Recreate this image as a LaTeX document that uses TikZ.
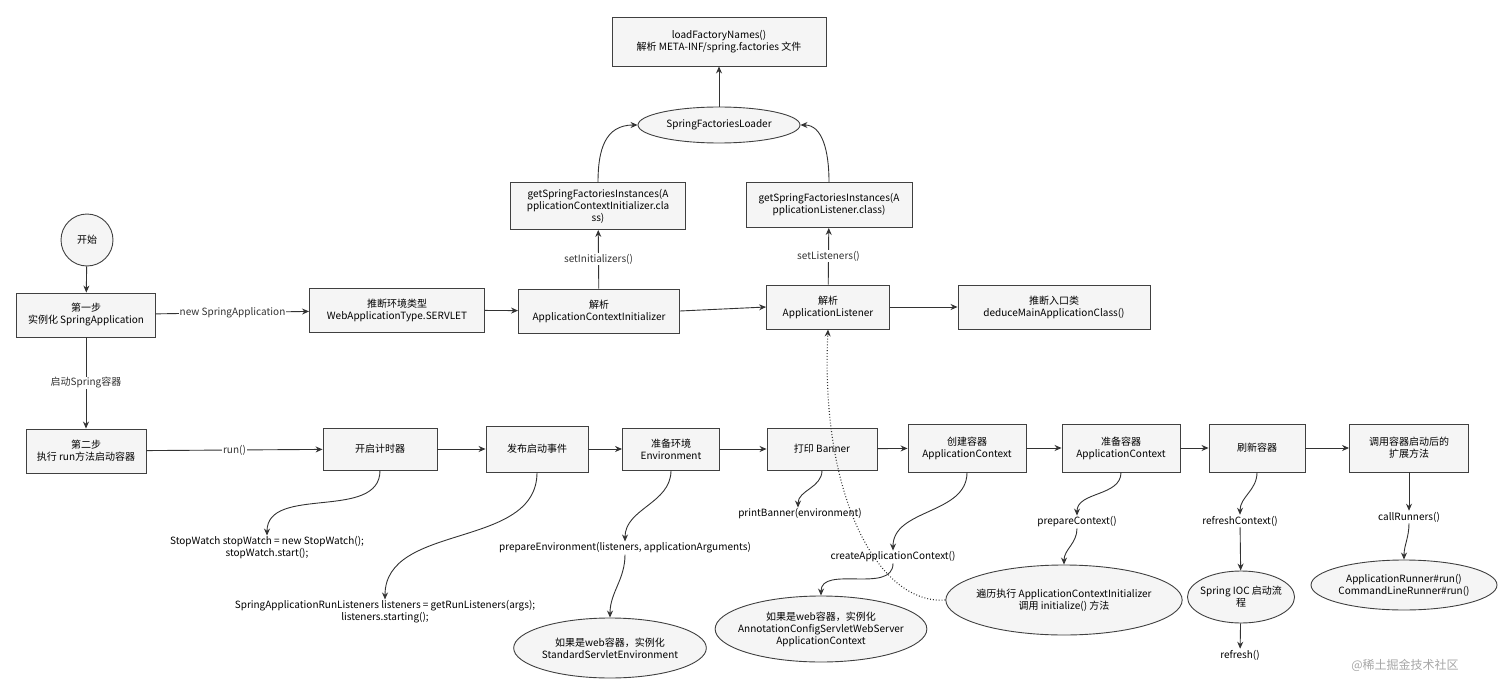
\documentclass[tikz,border=0pt]{standalone}
\usepackage{fontspec}
\setmainfont{Noto Sans CJK SC}
\usetikzlibrary{shapes.geometric,arrows.meta}
\begin{document}
\begin{tikzpicture}[x=1pt,y=1pt,
  font=\fontsize{10}{12}\selectfont,
  box/.style={draw=black!75,fill=black!4,line width=0.9pt,align=center,inner sep=2pt},
  ell/.style={ellipse,draw=black!75,fill=black!4,line width=0.9pt,align=center,inner sep=0pt},
  lab/.style={align=center,inner sep=1pt},
  arr/.style={-{Stealth[length=7pt,width=6pt]},line width=0.9pt,black!80},
  ll/.style={fill=white,inner sep=1pt}]
\useasboundingbox (0,0) rectangle (1512,-698);
\node[box,minimum width=214,minimum height=49] (lfn) at (719,-41.5) {loadFactoryNames()\\解析 META-INF/spring.factories 文件};
\node[ell,minimum width=162,minimum height=36] (sfl) at (719,-125) {SpringFactoriesLoader};
\node[box,minimum width=175,minimum height=47] (gl) at (598,-206) {getSpringFactoriesInstances(A\\pplicationContextInitializer.cla\\ss)};
\node[box,minimum width=166,minimum height=45] (gr) at (829,-205) {getSpringFactoriesInstances(A\\pplicationListener.class)};
\node[circle,draw=black!75,fill=black!4,line width=0.9pt,minimum size=52] (start) at (87,-240) {开始};
\node[box,minimum width=139,minimum height=44] (s1) at (86,-315) {第一步\\实例化 SpringApplication};
\node[box,minimum width=175,minimum height=44] (env) at (397,-310) {推断环境类型\\WebApplicationType.SERVLET};
\node[box,minimum width=161,minimum height=44] (aci) at (599,-311) {解析\\ApplicationContextInitializer};
\node[box,minimum width=123,minimum height=44] (al) at (828,-307) {解析\\ApplicationListener};
\node[box,minimum width=192,minimum height=44] (main) at (1054,-307) {推断入口类\\deduceMainApplicationClass()};
\node[box,minimum width=120,minimum height=44] (s2) at (86,-451) {第二步\\执行 run方法启动容器};
\node[box,minimum width=114,minimum height=42] (b1) at (380,-449) {开启计时器};
\node[box,minimum width=102,minimum height=46] (b2) at (537,-449) {发布启动事件};
\node[box,minimum width=97,minimum height=42] (b3) at (671,-449) {准备环境\\Environment};
\node[box,minimum width=110,minimum height=42] (b4) at (822,-449) {打印 Banner};
\node[box,minimum width=118,minimum height=48] (b5) at (967,-448) {创建容器\\ApplicationContext};
\node[box,minimum width=118,minimum height=48] (b6) at (1121,-448) {准备容器\\ApplicationContext};
\node[box,minimum width=96,minimum height=48] (b7) at (1257,-448) {刷新容器};
\node[box,minimum width=119,minimum height=48] (b8) at (1409,-448) {调用容器启动后的\\扩展方法};
\node[lab] (t1) at (267,-548) {StopWatch stopWatch = new StopWatch();\\stopWatch.start();};
\node[lab] (t2) at (385,-612) {SpringApplicationRunListeners listeners = getRunListeners(args);\\listeners.starting();};
\node[lab] (t3) at (625,-548) {prepareEnvironment(listeners, applicationArguments)};
\node[lab] (t4) at (800,-514) {printBanner(environment)};
\node[lab] (t5) at (893,-557) {createApplicationContext()};
\node[lab] (t6) at (1077,-522) {prepareContext()};
\node[lab] (t7) at (1240,-521) {refreshContext()};
\node[lab] (t8) at (1409,-517) {callRunners()};
\node[lab] (t9) at (1240,-655) {refresh()};
\node[ell,minimum width=190,minimum height=60] (e1) at (610,-648) {如果是web容器，实例化\\StandardServletEnvironment};
\node[ell,minimum width=196,minimum height=66,inner sep=-8pt] (e2) at (821,-629) {如果是web容器，实例化\\AnnotationConfigServletWebServer\\ApplicationContext};
\node[ell,minimum width=200,minimum height=70,inner sep=-4pt] (e3) at (1064,-600) {遍历执行 ApplicationContextInitializer\\调用 initialize() 方法};
\node[ell,minimum width=98,minimum height=52,inner sep=-3pt] (e4) at (1241,-597) {Spring IOC 启动流\\程};
\node[ell,minimum width=186,minimum height=50] (e5) at (1404,-585) {ApplicationRunner\#run()\\CommandLineRunner\#run()};
\node[text=black!35,font=\fontsize{12}{14}\selectfont] (wm) at (1405,-665) {@稀土掘金技术社区};
% arrows
\draw[arr] (sfl) -- (lfn);
\draw[arr] (gl.north) .. controls (598,-150) and (605,-125) .. (sfl.west);
\draw[arr] (gr.north) .. controls (829,-150) and (822,-125) .. (sfl.east);
\draw[arr] (aci) -- node[ll] {setInitializers()} (gl);
\draw[arr] (al) -- node[ll] {setListeners()} (gr);
\draw[arr] (start) -- (s1);
\draw[arr] (s1) -- node[ll] {new SpringApplication} (env);
\draw[arr] (env) -- (aci);
\draw[arr] (aci.east) -- (al.west);
\draw[arr] (al) -- (main);
\draw[arr] (s1) -- node[ll] {启动Spring容器} (s2);
\draw[arr] (s2) -- node[ll] {run()} (b1);
\draw[arr] (b1) -- (b2);
\draw[arr] (b2) -- (b3);
\draw[arr] (b3) -- (b4);
\draw[arr] (b4) -- (b5);
\draw[arr] (b5) -- (b6);
\draw[arr] (b6) -- (b7);
\draw[arr] (b7) -- (b8);
\draw[arr] (b1.south) to[out=-90,in=90] (t1.north);
\draw[arr] (b2.south) to[out=-90,in=90] (t2.north);
\draw[arr] (b3.south) to[out=-90,in=90] (t3.north);
\draw[arr] (t3.south) to[out=-90,in=90] (e1.north);
\draw[arr] (b4.south) to[out=-90,in=90] ([xshift=-2pt]t4.north);
\draw[arr] (b5.south) to[out=-90,in=90] (t5.north);
\draw[arr] (t5.south) to[out=-90,in=90] (e2.north);
\draw[arr] (b6.south) to[out=-90,in=90] (t6.north);
\draw[arr] (t6.south) to[out=-90,in=90] (e3.north);
\draw[arr] (b7.south) to[out=-90,in=90] (t7.north);
\draw[arr] (t7) -- (e4);
\draw[arr] (e4) -- (t9);
\draw[arr] (b8) -- (t8);
\draw[arr] (t8.south) to[out=-90,in=90] (e5.north);
\draw[arr,dotted,line width=1.1pt] (e3.west) .. controls (880,-605) and (820,-500) .. (al.south);
\end{tikzpicture}
\end{document}
